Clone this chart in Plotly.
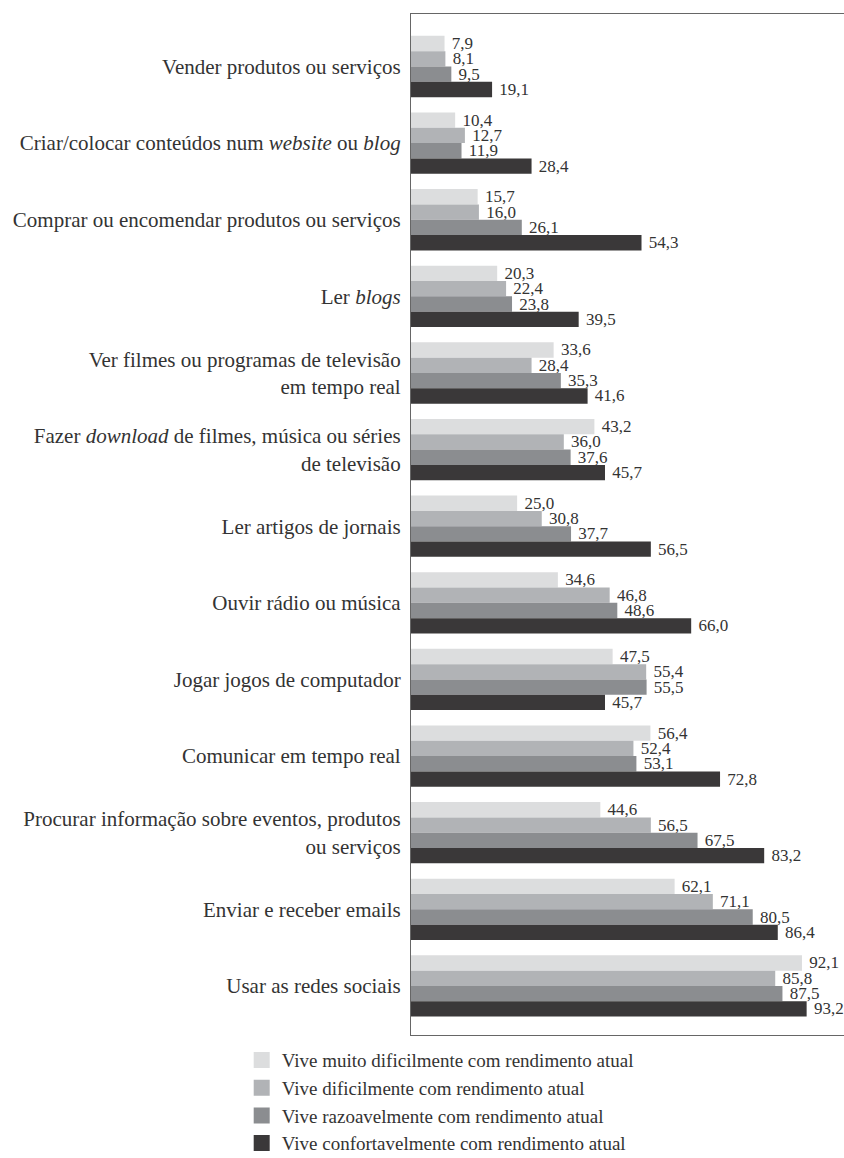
import plotly.graph_objects as go

categories = [
    "Vender produtos ou serviços",
    "Criar/colocar conteúdos num <i>website</i> ou <i>blog</i>",
    "Comprar ou encomendar produtos ou serviços",
    "Ler <i>blogs</i>",
    "Ver filmes ou programas de televisão<br>em tempo real",
    "Fazer <i>download</i> de filmes, música ou séries<br>de televisão",
    "Ler artigos de jornais",
    "Ouvir rádio ou música",
    "Jogar jogos de computador",
    "Comunicar em tempo real",
    "Procurar informação sobre eventos, produtos<br>ou serviços",
    "Enviar e receber emails",
    "Usar as redes sociais",
]

muito_dificil = [7.9, 10.4, 15.7, 20.3, 33.6, 43.2, 25.0, 34.6, 47.5, 56.4, 44.6, 62.1, 92.1]
dificil = [8.1, 12.7, 16.0, 22.4, 28.4, 36.0, 30.8, 46.8, 55.4, 52.4, 56.5, 71.1, 85.8]
razoavel = [9.5, 11.9, 26.1, 23.8, 35.3, 37.6, 37.7, 48.6, 55.5, 53.1, 67.5, 80.5, 87.5]
confortavel = [19.1, 28.4, 54.3, 39.5, 41.6, 45.7, 56.5, 66.0, 45.7, 72.8, 83.2, 86.4, 93.2]

series_names = [
    "Vive muito dificilmente com rendimento atual",
    "Vive dificilmente com rendimento atual",
    "Vive razoavelmente com rendimento atual",
    "Vive confortavelmente com rendimento atual",
]
series_values = [muito_dificil, dificil, razoavel, confortavel]
colors = ["#dcddde", "#b1b3b6", "#8b8d90", "#3a3839"]

FONT = "Liberation Serif"
TXT = "#333333"

fig = go.Figure()
for name, vals, col in zip(series_names, series_values, colors):
    fig.add_trace(go.Bar(
        y=categories, x=vals, orientation="h", name=name,
        marker=dict(color=col, line=dict(width=0)),
        text=["\u00a0" + f"{v:.1f}".replace(".", ",") for v in vals],
        textposition="outside", constraintext="none", cliponaxis=False,
        textfont=dict(family=FONT, size=17, color=TXT),
        showlegend=False, hoverinfo="skip",
    ))

for name, col in zip(series_names, colors):
    fig.add_trace(go.Scatter(
        x=[None], y=[None], mode="markers", name=name,
        marker=dict(symbol="square", size=16, color=col),
        showlegend=True,
    ))

fig.update_layout(
    template="none",
    width=844, height=1158,
    margin=dict(l=411, r=0, t=14, b=123, autoexpand=False),
    paper_bgcolor="white", plot_bgcolor="white",
    barmode="group", bargap=0.2, bargroupgap=0,
    font=dict(family=FONT, color=TXT),
    legend=dict(
        x=-0.391, xanchor="left", y=-0.006, yanchor="top",
        font=dict(family=FONT, size=19, color=TXT),
        traceorder="normal", itemsizing="trace",
        bgcolor="rgba(0,0,0,0)",
    ),
    xaxis=dict(
        range=[0, 102], showgrid=False, zeroline=False, showticklabels=False,
        ticks="", showline=True, linecolor="#666666", linewidth=1.3, mirror=True,
        fixedrange=True,
    ),
    yaxis=dict(
        range=[12.64, -0.685], showgrid=False, zeroline=False,
        showline=True, linecolor="#666666", linewidth=1.3, mirror=False,
        ticks="", ticklabelstandoff=5,
        tickfont=dict(family=FONT, size=21, color=TXT),
        fixedrange=True,
    ),
)

fig.write_html(
    "out.html",
    config={"displayModeBar": False},
    post_script="document.body.style.margin='0';document.body.style.overflow='hidden';",
)
